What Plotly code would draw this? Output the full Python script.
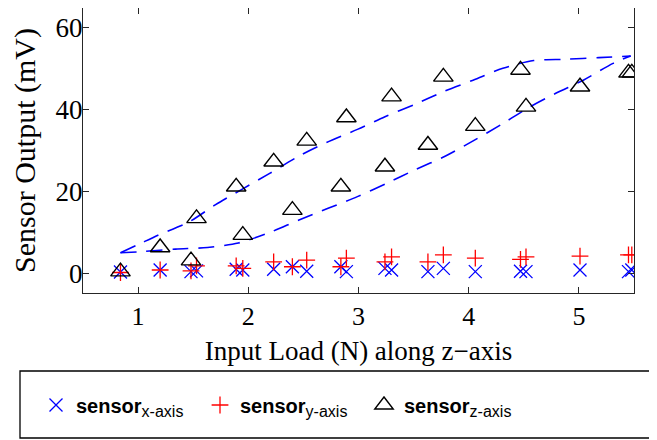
import plotly.graph_objects as go

# Input load (N) along z-axis for each measurement
load_n = [0.84, 1.20, 1.48, 1.53, 1.89, 1.95, 2.23, 2.40, 2.53, 2.84, 2.89,
          3.24, 3.30, 3.63, 3.77, 4.06, 4.47, 4.52, 5.01, 5.45, 5.48]
sensor_x = [0.3, 0.8, 0.4, 0.6, 1.0, 0.8, 1.0, 1.6, 0.5, 1.6, 0.4,
            1.2, 0.8, 0.4, 1.2, 0.4, 0.5, 0.4, 0.8, 0.4, 0.8]
sensor_y = [0.2, 0.8, 0.6, 1.8, 1.8, 1.2, 2.8, 1.6, 3.2, 1.6, 3.7,
            2.8, 4.0, 2.8, 4.5, 3.7, 3.4, 4.0, 4.2, 4.5, 4.5]
sensor_z = [0.4, 6.3, 3.1, 13.4, 21.1, 9.3, 27.2, 15.4, 32.3, 21.1, 38.0,
            26.0, 43.1, 31.3, 47.9, 35.9, 49.6, 40.6, 45.5, 48.9, 48.9]

# Fitted trend curves
fit_up_x = [0.84, 1.00, 1.18, 1.46, 1.70, 1.95, 2.19, 2.46, 2.71, 2.99,
            3.24, 3.51, 3.77, 4.04, 4.31, 4.59, 4.88, 5.18, 5.47]
fit_up_y = [5.0, 7.0, 9.3, 12.5, 16.7, 20.6, 24.3, 28.6, 31.9, 35.1,
            38.2, 41.2, 44.3, 47.1, 50.0, 51.9, 52.2, 52.6, 53.0]
fit_dn_x = [0.84, 1.04, 1.34, 1.63, 1.91, 2.18, 2.46, 2.73, 2.99, 3.26,
            3.51, 3.79, 4.04, 4.29, 4.53, 4.79, 5.04, 5.31, 5.47]
fit_dn_y = [5.0, 5.3, 5.9, 6.3, 7.4, 9.8, 13.0, 15.9, 18.7, 22.0,
            25.2, 28.6, 32.3, 36.2, 40.2, 43.9, 47.1, 51.2, 53.0]

x_ticks = [1, 2, 3, 4, 5]
y_ticks = [0, 20, 40, 60]

BLUE = "rgb(0,0,255)"
RED = "rgb(255,0,0)"
AX = "#262626"
SERIF = "Liberation Serif, Times New Roman, serif"
SANS = "Liberation Sans, Arial, sans-serif"

def leg_name(axis):
    return ("<b>sensor</b><sub><span style='font-size:16px'>%s</span></sub>" % axis)

fig = go.Figure()

for fx, fy in [(fit_up_x, fit_up_y), (fit_dn_x, fit_dn_y)]:
    fig.add_trace(go.Scatter(x=fx, y=fy, mode="lines", showlegend=False,
                             line=dict(color=BLUE, width=1.6, dash="16px,10px",
                                       shape="spline", smoothing=0.8),
                             hoverinfo="skip"))

fig.add_trace(go.Scatter(x=load_n, y=sensor_x, mode="markers",
                         name=leg_name("x-axis"),
                         marker=dict(symbol="x-thin-open", size=13, color=BLUE,
                                     line=dict(color=BLUE, width=1.3))))
fig.add_trace(go.Scatter(x=load_n, y=sensor_y, mode="markers",
                         name=leg_name("y-axis"),
                         marker=dict(symbol="cross-thin-open", size=12, color=RED,
                                     line=dict(color=RED, width=1.3))))
fig.add_trace(go.Scatter(x=load_n, y=sensor_z, mode="markers",
                         name=leg_name("z-axis"),
                         marker=dict(symbol="triangle-up-open", size=17, color="black",
                                     line=dict(color="black", width=1.4))))

# page has an 8px body margin; figure coordinates = screen - 8
OFF = 8
W, H = 657 - OFF, 440 - OFF
L, R, T, B = 83 - OFF, W - (634 - OFF), 0, H - (293 - OFF)
pw, ph = W - L - R, H - T - B

def px2paper_x(sx):
    return (sx - OFF - L) / pw

def px2paper_y(sy):
    return (H - B - (sy - OFF)) / ph

fig.add_shape(type="rect", xref="paper", yref="paper",
              x0=px2paper_x(20), x1=px2paper_x(655),
              y0=px2paper_y(438), y1=px2paper_y(371),
              line=dict(color="black", width=1.3), fillcolor="rgba(0,0,0,0)")

fig.update_layout(
    width=W, height=H,
    margin=dict(l=L, r=R, t=T, b=B, autoexpand=False),
    paper_bgcolor="white", plot_bgcolor="white",
    showlegend=True,
    legend=dict(orientation="h", x=px2paper_x(36), xanchor="left",
                y=px2paper_y(405), yanchor="middle",
                font=dict(family=SANS, size=20, color="black"),
                bgcolor="rgba(0,0,0,0)", borderwidth=0,
                itemsizing="trace", entrywidth=119, entrywidthmode="pixels",
                tracegroupgap=0),
    xaxis=dict(range=[0.5, 5.5], tickvals=x_ticks, ticktext=[str(v) for v in x_ticks],
               showgrid=False, zeroline=False, showline=True, mirror="ticks",
               linecolor=AX, linewidth=1.3, ticks="inside", ticklen=6, tickcolor=AX,
               tickfont=dict(family=SERIF, size=26, color="black"),
               title=dict(text="Input Load (N) along z\u2212axis", standoff=10,
                          font=dict(family=SERIF, size=27, color="black"))),
    yaxis=dict(range=[(273.3 - 293) / 4.1, (273.3 - 8) / 4.1],
               tickvals=y_ticks, ticktext=[str(v) for v in y_ticks],
               showgrid=False, zeroline=False, showline=True, mirror="ticks",
               linecolor=AX, linewidth=1.3, ticks="inside", ticklen=6, tickcolor=AX,
               ticklabelstandoff=-6,
               tickfont=dict(family=SERIF, size=27, color="black"),
               title=dict(text="Sensor Output (mV)", standoff=12,
                          font=dict(family=SERIF, size=30, color="black"))),
)

fig.write_html("out.html")
